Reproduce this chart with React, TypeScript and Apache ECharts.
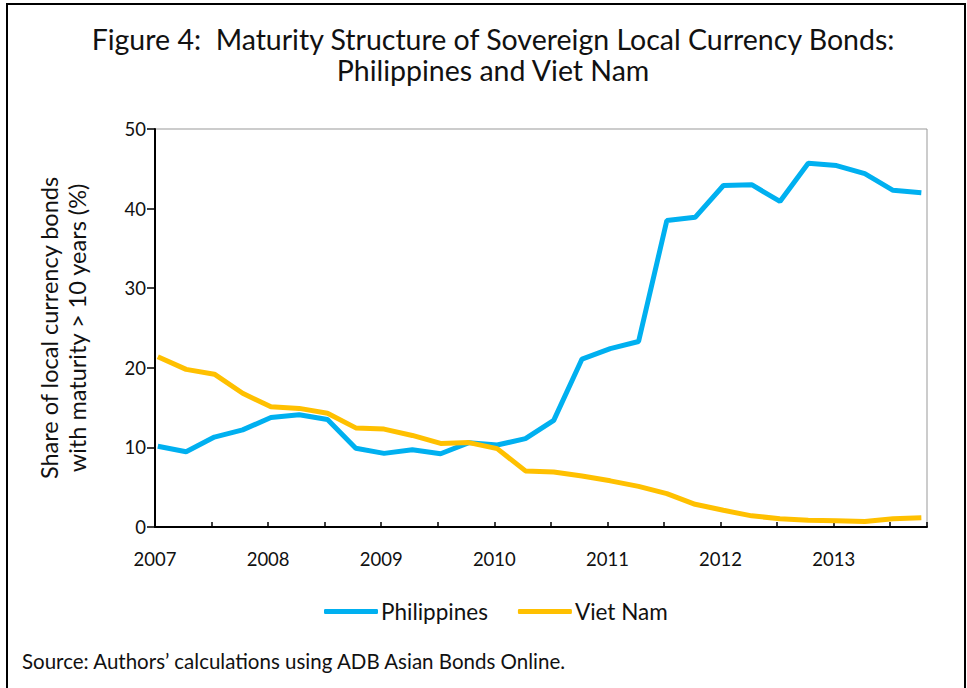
import React, { useEffect, useRef } from "react";
import * as echarts from "echarts";

const quarterLabels = ["2007", "2008", "2009", "2010", "2011", "2012", "2013"];
const philippines = [
  10.15, 9.45, 11.3, 12.2, 13.75, 14.1, 13.5, 9.9, 9.25, 9.7, 9.2, 10.6, 10.3, 11.1,
  13.4, 21.1, 22.4, 23.3, 38.5, 38.9, 42.9, 43.0, 40.9, 45.7, 45.4, 44.4, 42.3, 42.0,
];
const vietNam = [
  21.4, 19.8, 19.2, 16.8, 15.1, 14.9, 14.3, 12.45, 12.3, 11.5, 10.5, 10.6, 9.85, 7.05,
  6.9, 6.4, 5.8, 5.1, 4.2, 2.85, 2.1, 1.4, 1.05, 0.85, 0.8, 0.7, 1.05, 1.15,
];
const yTicks = [0, 10, 20, 30, 40, 50];

const FONT = "Lato, 'Open Sans', sans-serif";

export default function App() {
  const ref = useRef<HTMLDivElement>(null);
  useEffect(() => {
    const chart = echarts.init(ref.current!, null, { renderer: "svg" });
    const toPts = (arr: number[]) => arr.map((v, i) => [i + 0.1, v]);
    chart.setOption({
      animation: false,
      backgroundColor: "#ffffff",
      textStyle: { fontFamily: FONT },
      title: {
        text: "Figure 4:  Maturity Structure of Sovereign Local Currency Bonds:\nPhilippines and Viet Nam",
        left: 488,
        textAlign: "center",
        top: 18,
        textStyle: { fontFamily: FONT, fontSize: 28.5, fontWeight: "normal", color: "#111", lineHeight: 31.5 },
      },
      graphic: [
        {
          type: "rect",
          shape: { x: 7, y: 4, width: 958, height: 700 },
          style: { fill: "none", stroke: "#000", lineWidth: 2 },
          silent: true,
        },
        {
          type: "text",
          left: 22,
          top: 650,
          style: {
            text: "Source: Authors\u2019 calculations using ADB Asian Bonds Online.",
            font: `20.5px ${FONT}`,
            fill: "#111",
          },
        },
      ],
      legend: {
        left: 319,
        top: 595,
        itemGap: 30,
        itemWidth: 54,
        itemHeight: 5,
        icon: "roundRect",
        textStyle: { fontFamily: FONT, fontSize: 22.5, color: "#111", padding: [0, 0, 0, -2] },
        data: ["Philippines", "Viet Nam"],
      },
      grid: { left: 155, right: 40, top: 129, bottom: 161, containLabel: false, show: true, borderColor: "#999", borderWidth: 1 },
      xAxis: {
        type: "value",
        min: 0,
        max: 27.3,
        interval: 2,
        axisLine: { show: true, lineStyle: { color: "#000", width: 2 } },
        axisTick: { show: true, inside: true, length: 5, lineStyle: { color: "#000", width: 1.5 } },
        splitLine: { show: false },
        axisLabel: {
          fontFamily: FONT,
          fontSize: 18.5,
          color: "#111",
          margin: 22,
          formatter: (v: number) => (v % 4 === 0 ? quarterLabels[v / 4] ?? "" : ""),
        },
      },
      yAxis: {
        type: "value",
        min: yTicks[0],
        max: yTicks[yTicks.length - 1],
        interval: 10,
        name: "Share of local currency bonds\nwith maturity > 10 years (%)",
        nameLocation: "middle",
        nameGap: 64,
        nameTextStyle: { fontFamily: FONT, fontSize: 23.5, color: "#111", lineHeight: 28 },
        axisLine: { show: true, lineStyle: { color: "#000", width: 2 } },
        axisTick: { show: true, inside: false, length: 8, lineStyle: { color: "#000", width: 1.5 } },
        splitLine: { show: false },
        axisLabel: { fontFamily: FONT, fontSize: 18.5, color: "#111", margin: 9 },
      },
      series: [
        {
          name: "Philippines",
          type: "line",
          data: toPts(philippines),
          showSymbol: false,
          symbol: "none",
          lineStyle: { color: "#00B0F0", width: 5 },
          itemStyle: { color: "#00B0F0" },
        },
        {
          name: "Viet Nam",
          type: "line",
          data: toPts(vietNam),
          showSymbol: false,
          symbol: "none",
          lineStyle: { color: "#FFC000", width: 5 },
          itemStyle: { color: "#FFC000" },
        },
      ],
    });
    return () => chart.dispose();
  }, []);
  return (
    <div
      ref={ref}
      style={{ position: "fixed", left: 0, top: 0, width: 967, height: 688 }}
    />
  );
}
